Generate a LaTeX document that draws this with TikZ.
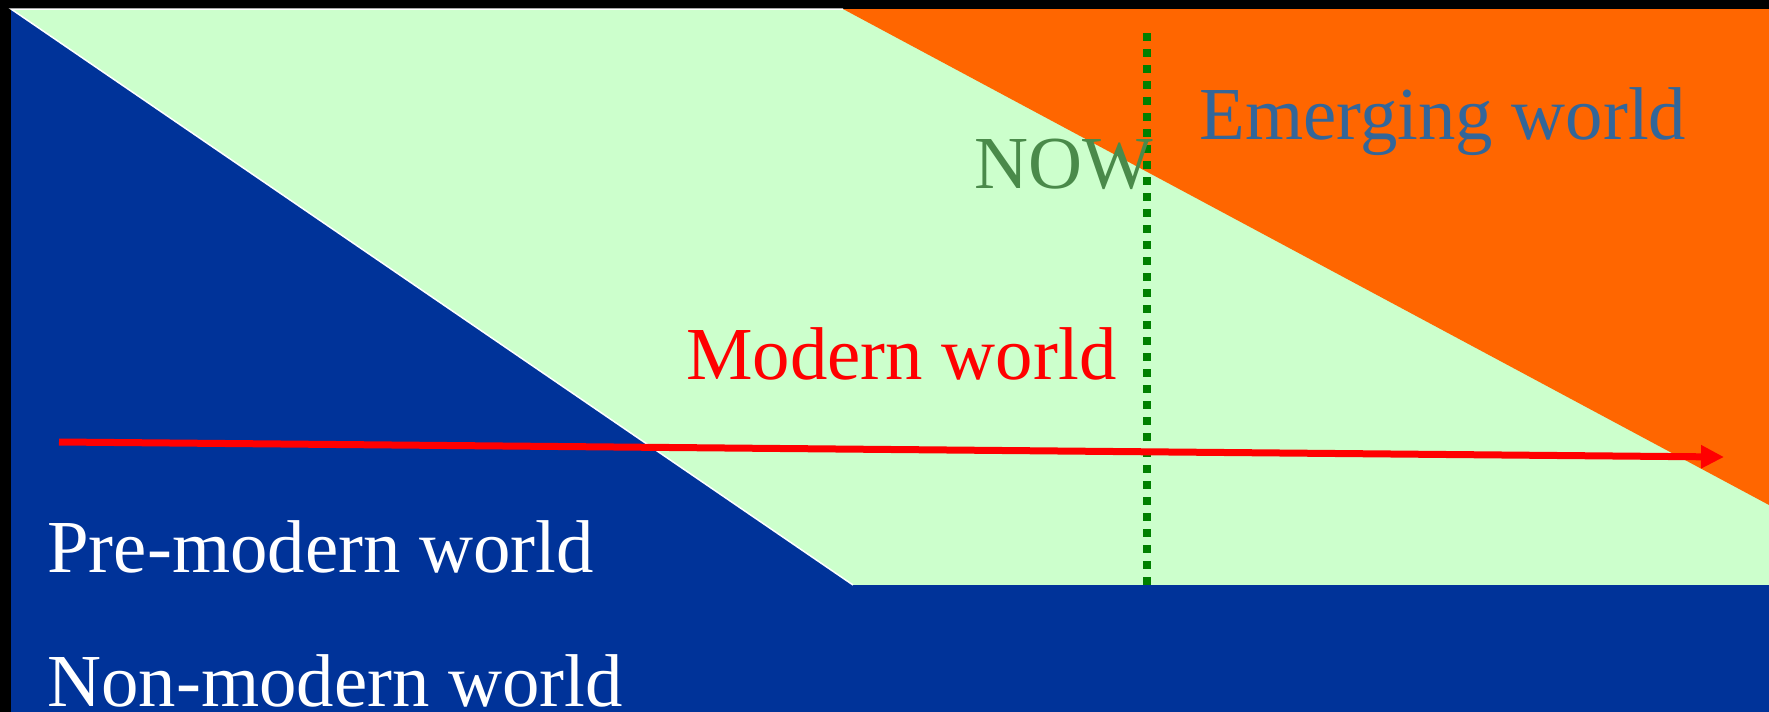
\documentclass[tikz,border=0pt]{standalone}
\usepackage{fontspec}
\setmainfont{Liberation Serif}
\usetikzlibrary{arrows.meta}
\definecolor{bgblue}{RGB}{0,51,153}
\definecolor{lightgreen}{RGB}{204,255,204}
\definecolor{emorange}{RGB}{255,102,0}
\definecolor{nowgreen}{RGB}{74,138,74}
\definecolor{dotgreen}{RGB}{0,128,0}
\definecolor{emblue}{RGB}{51,102,153}
\tikzset{
  lbl/.style={anchor=base west, inner sep=0pt, font=\fontsize{37.4}{44}\selectfont},
  timearrow/.style={draw=red, line width=3.5pt, -{Triangle[length=11.5pt,width=11pt]}},
  nowline/.style={draw=dotgreen, line width=4pt, dash pattern=on 4pt off 4pt},
  edgeline/.style={draw=white, line width=0.75pt}
}
\begin{document}
\begin{tikzpicture}[x=0.5pt, y=-0.5pt]
\useasboundingbox (0,0) rectangle (1769,712);
% background frame
\fill[black] (0,0) rectangle (1769,712);
% modern world (light green)
\fill[lightgreen] (11,9) rectangle (1769,585);
% emerging world (orange)
\fill[emorange] (843,9) -- (1769,9) -- (1769,505) -- cycle;
% NOW dotted line
\coordinate (nowtop) at (1147,33);
\coordinate (nowbot) at (1147,585);
\draw[nowline] (nowtop) -- (nowbot);
% pre-modern / non-modern world (blue)
\fill[bgblue] (11,9) -- (853,585) -- (1769,585) -- (1769,712) -- (11,712) -- cycle;
\draw[edgeline] (843,9) -- (11,9) -- (853,585);
% time arrow
\coordinate (arrowstart) at (59,442);
\coordinate (arrowend) at (1724,457);
\draw[timearrow] (arrowstart) -- (arrowend);
% labels
\node[lbl, text=emblue] (emerging) at (1199,139) {Emerging world};
\node[lbl, text=nowgreen] (now) at (974,188) {NOW};
\node[lbl, text=red] (modern) at (686,379) {Modern world};
\node[lbl, text=white] (premodern) at (47,572) {Pre-modern world};
\node[lbl, text=white] (nonmodern) at (47,706) {Non-modern world};
\end{tikzpicture}
\end{document}
